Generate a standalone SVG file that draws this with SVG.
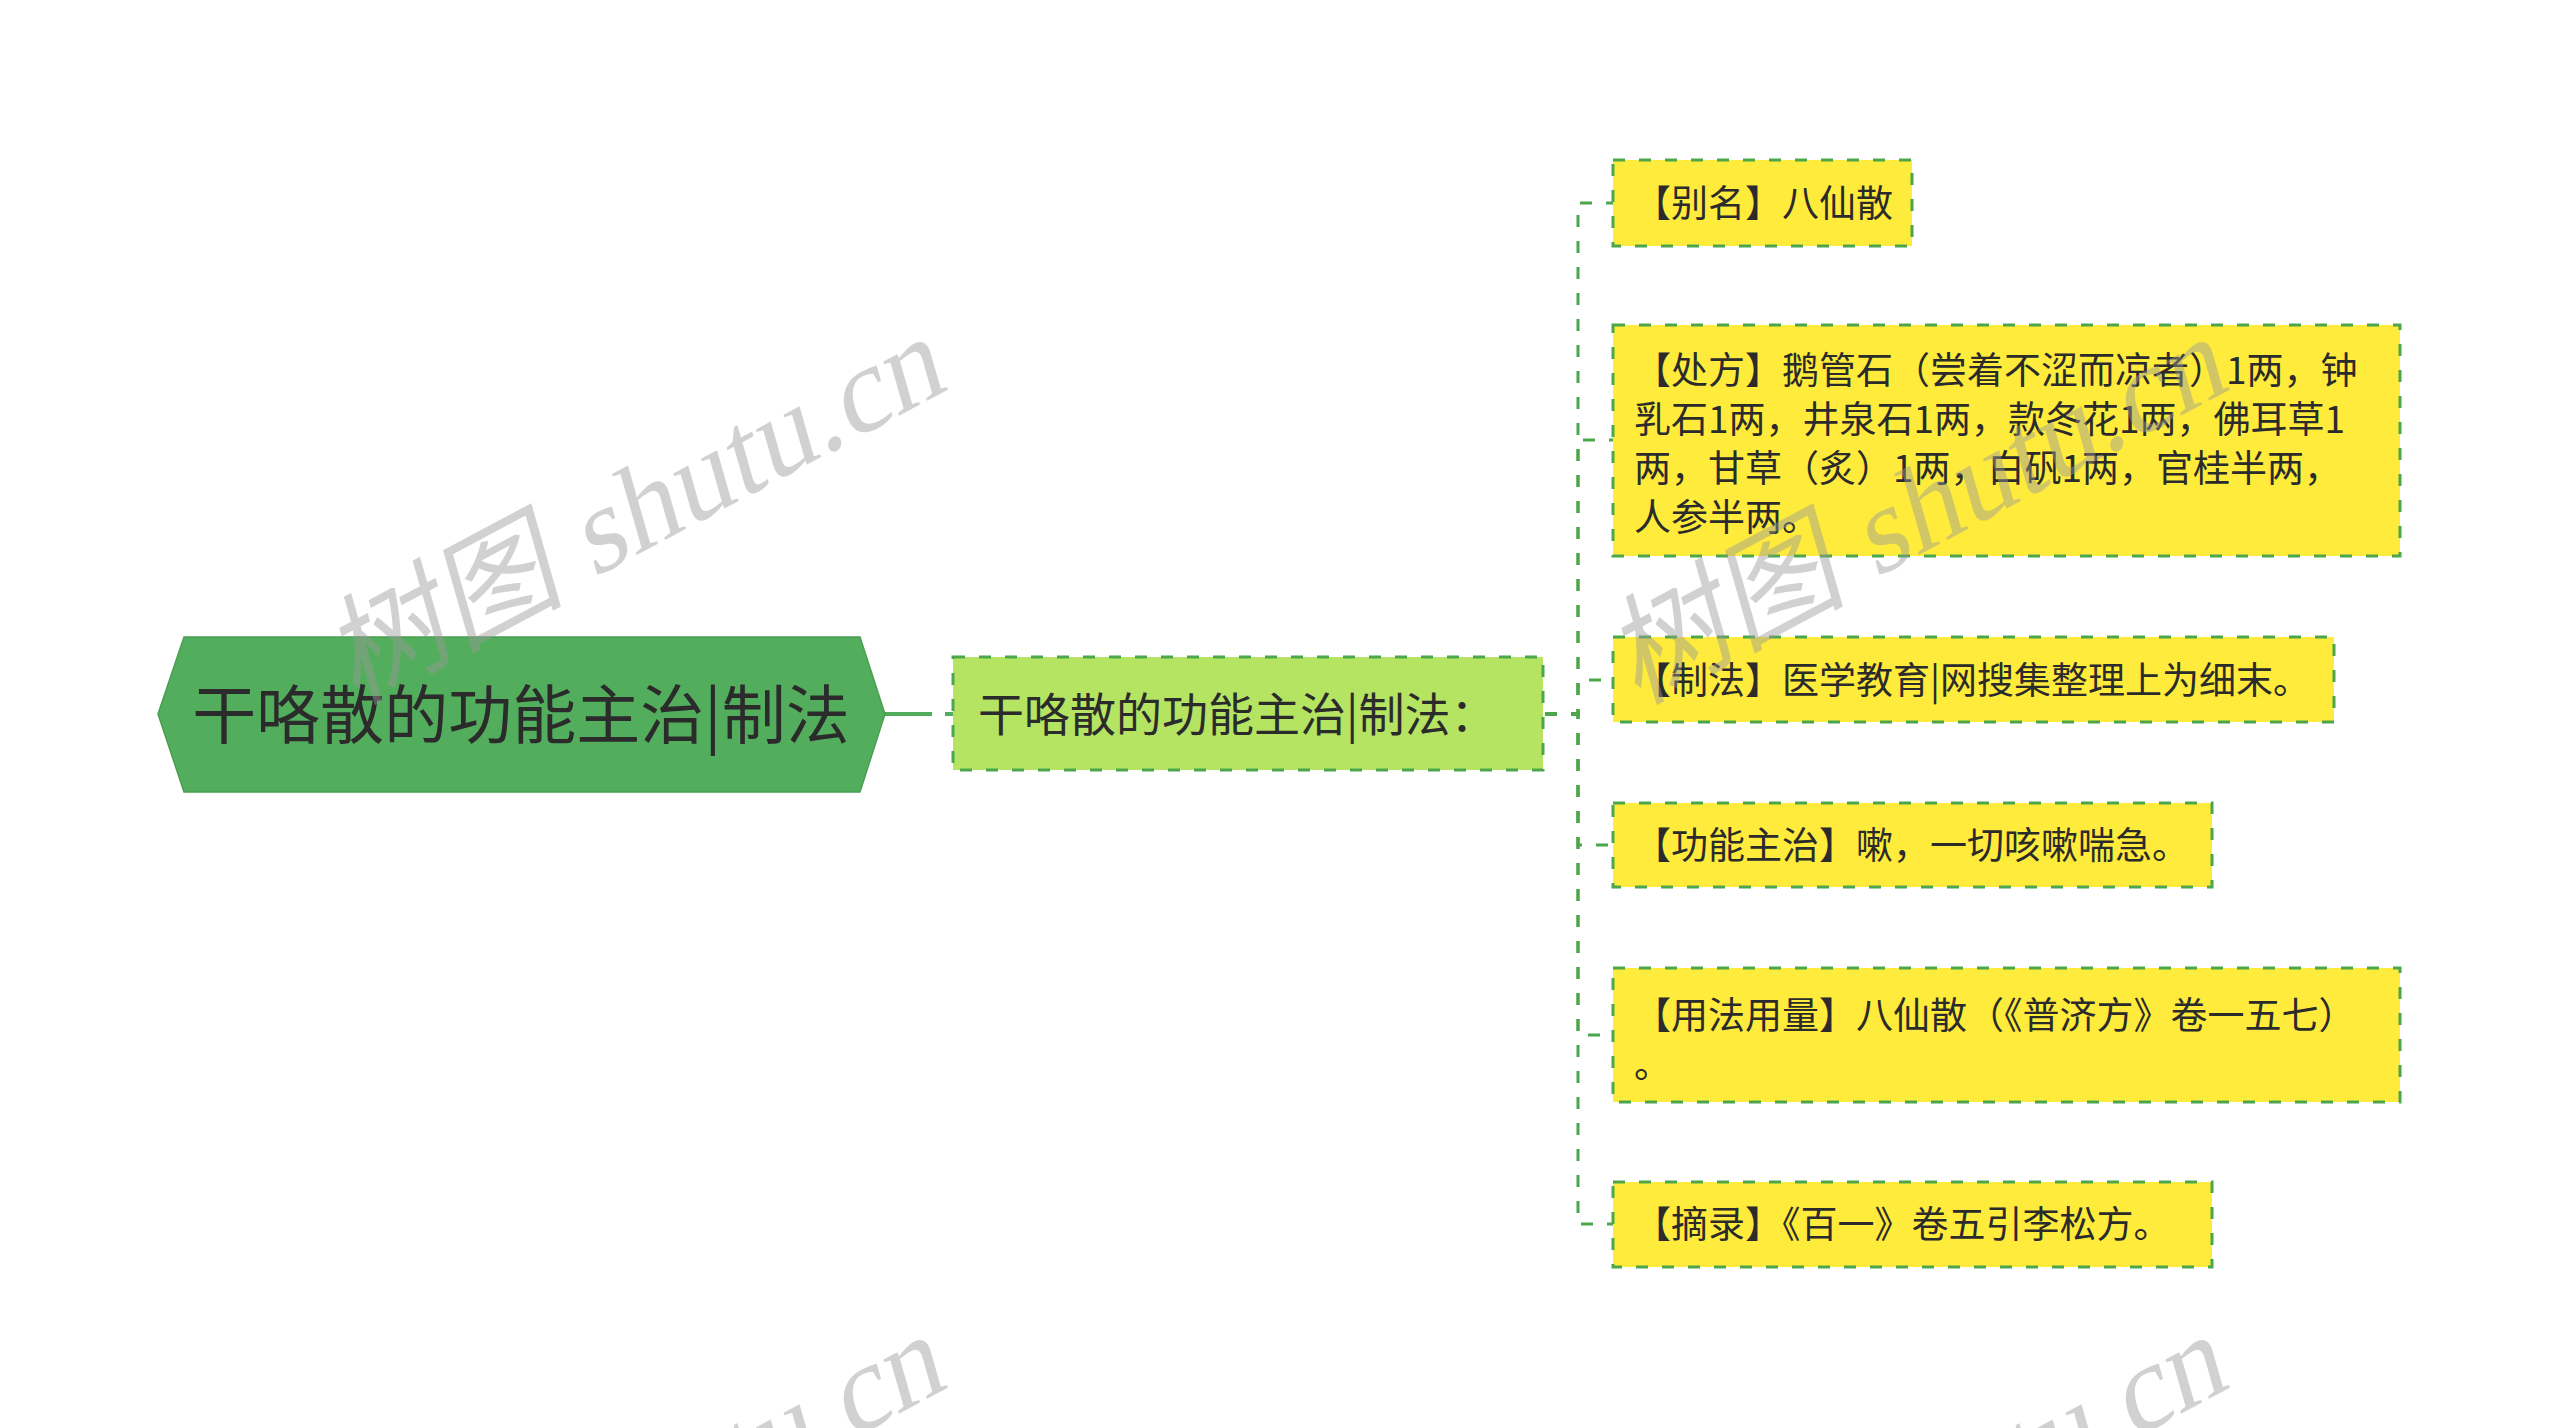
<svg xmlns="http://www.w3.org/2000/svg" width="2560" height="1428" viewBox="0 0 2560 1428">
<style>
.cjk{font-family:"Noto Sans CJK SC","Noto Sans",sans-serif;fill:#2b2b2b}
.leaf rect{fill:#FFEB3B;stroke:#4CA64C;stroke-width:3;stroke-dasharray:12 14}
.leaf text{font-size:37px}
.conn{fill:none;stroke:#4CA64C;stroke-width:3;stroke-dasharray:12 14}
.wm{font-family:"Liberation Serif","Noto Sans CJK SC",serif;font-size:120px;fill:#999;fill-opacity:0.45}
</style>
<rect width="2560" height="1428" fill="#ffffff"/>
<g id="connectors">
<path d="M885,714 H953" fill="none" stroke="#52AE5C" stroke-width="4" stroke-dasharray="47 13 8 200"/>
<path class="conn" d="M1545,714 H1578 V203 H1613"/>
<path class="conn" d="M1545,714 H1578 V440 H1613"/>
<path class="conn" d="M1545,714 H1578 V680 H1613"/>
<path class="conn" d="M1545,714 H1578 V845 H1613"/>
<path class="conn" d="M1545,714 H1578 V1035 H1613"/>
<path class="conn" d="M1545,714 H1578 V1224 H1613"/>
</g>
<g id="root">
<polygon points="158,714 184,637 860,637 885,714 860,792 184,792" fill="#52AE5C" stroke="#4A9E52" stroke-width="1.5"/>
<text class="cjk" x="521" y="738" font-size="64" text-anchor="middle">干咯散的功能主治|制法</text>
</g>
<g id="sub">
<rect x="953" y="657" width="590" height="113" fill="#B4E462" stroke="#4CA64C" stroke-width="3" stroke-dasharray="12 14"/>
<text class="cjk" x="978" y="731" font-size="46">干咯散的功能主治|制法：</text>
</g>
<g id="leaf-alias" class="leaf">
<rect x="1613" y="160" width="299" height="86"/>
<text class="cjk" x="1634" y="217">【别名】八仙散</text>
</g>
<g id="leaf-recipe" class="leaf">
<rect x="1613" y="325" width="787" height="231"/>
<text class="cjk" x="1634" y="384">【处方】鹅管石（尝着不涩而凉者）1两，钟</text>
<text class="cjk" x="1634" y="433">乳石1两，井泉石1两，款冬花1两，佛耳草1</text>
<text class="cjk" x="1634" y="482">两，甘草（炙）1两，白矾1两，官桂半两，</text>
<text class="cjk" x="1634" y="531">人参半两。</text>
</g>
<g id="leaf-method" class="leaf">
<rect x="1613" y="637" width="721" height="85"/>
<text class="cjk" x="1634" y="694">【制法】医学教育|网搜集整理上为细末。</text>
</g>
<g id="leaf-function" class="leaf">
<rect x="1613" y="803" width="599" height="84"/>
<text class="cjk" x="1634" y="859">【功能主治】嗽，一切咳嗽喘急。</text>
</g>
<g id="leaf-usage" class="leaf">
<rect x="1613" y="968" width="787" height="134"/>
<text class="cjk" x="1634" y="1029">【用法用量】八仙散（《普济方》卷一五七）</text>
<text class="cjk" x="1634" y="1078">。</text>
</g>
<g id="leaf-source" class="leaf">
<rect x="1613" y="1182" width="599" height="85"/>
<text class="cjk" x="1634" y="1238">【摘录】《百一》卷五引李松方。</text>
</g>
<g id="watermarks">
<text class="wm" transform="translate(355,705) rotate(-28) skewX(-12)">树图 shutu.cn</text>
<text class="wm" transform="translate(1637,705) rotate(-28) skewX(-12)">树图 shutu.cn</text>
<text class="wm" transform="translate(355,1703) rotate(-28) skewX(-12)">树图 shutu.cn</text>
<text class="wm" transform="translate(1637,1703) rotate(-28) skewX(-12)">树图 shutu.cn</text>
</g>
</svg>
